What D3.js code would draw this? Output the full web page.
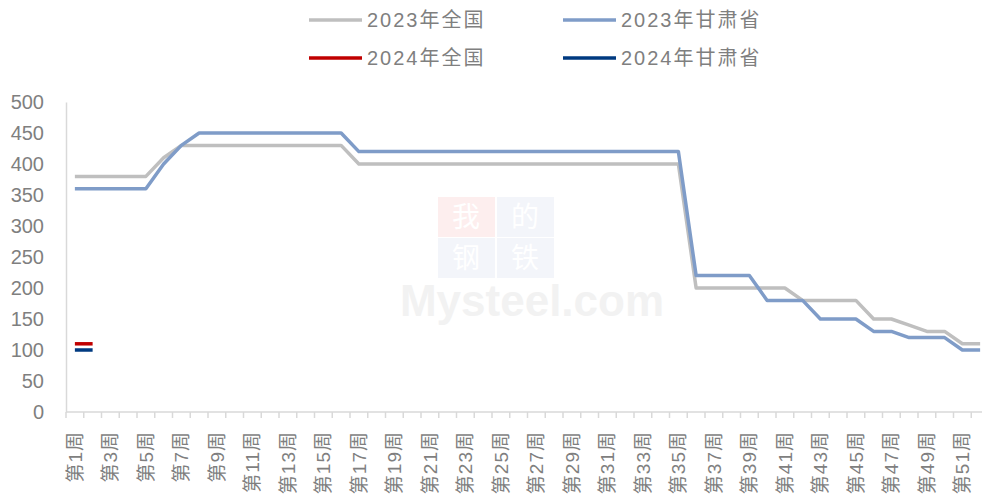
<!DOCTYPE html>
<html>
<head>
<meta charset="utf-8">
<script src="https://cdn.jsdelivr.net/npm/d3@7"></script>
<style>
  body { margin: 0; background: #fff; }
  svg { display: block; font-family: "Liberation Sans", "Noto Sans CJK SC", sans-serif; }
  .axis text { fill: #7f7f7f; }
</style>
</head>
<body>
<div class="svg-container"></div>
<script>
// weeks 1..52
const weeks = d3.range(1, 53).map(w => "第" + w + "周");
const yTicks = [0, 50, 100, 150, 200, 250, 300, 350, 400, 450, 500];

const national2023 = [380, 380, 380, 380, 380, 410, 430, 430, 430, 430,
  430, 430, 430, 430, 430, 430, 400, 400, 400, 400,
  400, 400, 400, 400, 400, 400, 400, 400, 400, 400,
  400, 400, 400, 400, 400, 200, 200, 200, 200, 200,
  200, 180, 180, 180, 180, 150, 150, 140, 130, 130,
  110, 110];
const gansu2023 = [360, 360, 360, 360, 360, 400, 430, 450, 450, 450,
  450, 450, 450, 450, 450, 450, 420, 420, 420, 420,
  420, 420, 420, 420, 420, 420, 420, 420, 420, 420,
  420, 420, 420, 420, 420, 220, 220, 220, 220, 180,
  180, 180, 150, 150, 150, 130, 130, 120, 120, 120,
  100, 100];
const national2024 = [110, 110];
const gansu2024 = [100, 100];

const seriesNames = ["2023年全国", "2023年甘肃省", "2024年全国", "2024年甘肃省"];
const seriesColors = ["#bfbfbf", "#7f9cc8", "#c00000", "#003a80"];
const seriesData = [national2023, gansu2023, national2024, gansu2024];

const W = 982, H = 494;
const margin = { top: 102, left: 66, bottom: 82 };
const plotRight = 989;

const svg = d3.select(".svg-container").append("svg")
  .attr("width", W)
  .attr("height", H);

const x = d3.scaleBand()
  .domain(weeks)
  .range([margin.left, plotRight]);

const y = d3.scaleLinear()
  .domain([0, 500])
  .range([H - margin.bottom, margin.top]);

// watermark
const wmChars = ["我", "的", "钢", "铁"];
const wmBox = [[438, 197, "#fdeeee"], [497, 197, "#f3f5fa"], [438, 238, "#f3f5fa"], [497, 238, "#f3f5fa"]];
const wm = svg.append("g");
wm.selectAll("rect")
  .data(wmBox)
  .enter().append("rect")
  .attr("x", d => d[0]).attr("y", d => d[1])
  .attr("width", 57).attr("height", 40)
  .attr("fill", d => d[2]);
wm.selectAll(".wmchar")
  .data(wmChars)
  .enter().append("text")
  .attr("class", "wmchar")
  .attr("x", (d, i) => wmBox[i][0] + 28)
  .attr("y", (d, i) => wmBox[i][1] + 30)
  .attr("text-anchor", "middle")
  .style("font-family", "Noto Sans CJK SC")
  .style("font-size", "28px")
  .style("fill", "#ffffff")
  .text(d => d);
wm.append("text").attr("x", 532).attr("y", 316).attr("text-anchor", "middle")
  .style("font-size", "44px").style("font-weight", "bold")
  .style("fill", "#f2f2f2").text("Mysteel.com");

// y axis
const yAxis = svg.append("g")
  .attr("class", "axis")
  .attr("transform", "translate(" + margin.left + ",0)")
  .call(d3.axisLeft(y).tickValues(yTicks).tickSize(0).tickPadding(22));
yAxis.select(".domain").attr("stroke", "#d9d9d9").attr("stroke-width", 1.5);
yAxis.selectAll("text").style("font-size", "20px");

// x axis
const xAxis = svg.append("g")
  .attr("class", "axis")
  .attr("transform", "translate(0," + y(0) + ")");
xAxis.append("line")
  .attr("x1", margin.left).attr("x2", plotRight)
  .attr("stroke", "#d9d9d9").attr("stroke-width", 1.5);
xAxis.selectAll(".tick")
  .data(weeks)
  .enter().append("line")
  .attr("x1", d => x(d)).attr("x2", d => x(d))
  .attr("y1", 0).attr("y2", 6)
  .attr("stroke", "#d9d9d9").attr("stroke-width", 1.5);
xAxis.selectAll(".xlabel")
  .data(weeks.filter((d, i) => i % 2 === 0))
  .enter().append("text")
  .attr("class", "xlabel")
  .attr("transform", d => "translate(" + (x(d) + x.bandwidth() / 2 + 7) + ",19) rotate(-90)")
  .style("text-anchor", "end")
  .style("font-size", "19px")
  .style("letter-spacing", "1px")
  .text(d => d);

// lines
const line = d3.line()
  .x((d, i) => x(weeks[i]) + x.bandwidth() / 2)
  .y(d => y(d));

seriesData.forEach((data, k) => {
  svg.append("path")
    .datum(data)
    .attr("fill", "none")
    .attr("stroke", seriesColors[k])
    .attr("stroke-width", 3.5)
    .attr("stroke-linejoin", "round")
    .attr("d", line);
});

// legend
const legendPos = [[309, 20], [563, 20], [309, 58], [563, 58]];
const legend = svg.selectAll(".legend")
  .data(seriesNames)
  .enter().append("g")
  .attr("class", "legend")
  .attr("transform", (d, i) => "translate(" + legendPos[i][0] + "," + legendPos[i][1] + ")");

legend.append("line")
  .attr("x1", 0).attr("x2", 53)
  .attr("stroke", (d, i) => seriesColors[i])
  .attr("stroke-width", 3.5);

legend.append("text")
  .attr("x", 58)
  .attr("dy", ".35em")
  .style("font-size", "20px")
  .style("letter-spacing", "2px")
  .style("fill", "#7f7f7f")
  .text(d => d);
</script>
</body>
</html>
